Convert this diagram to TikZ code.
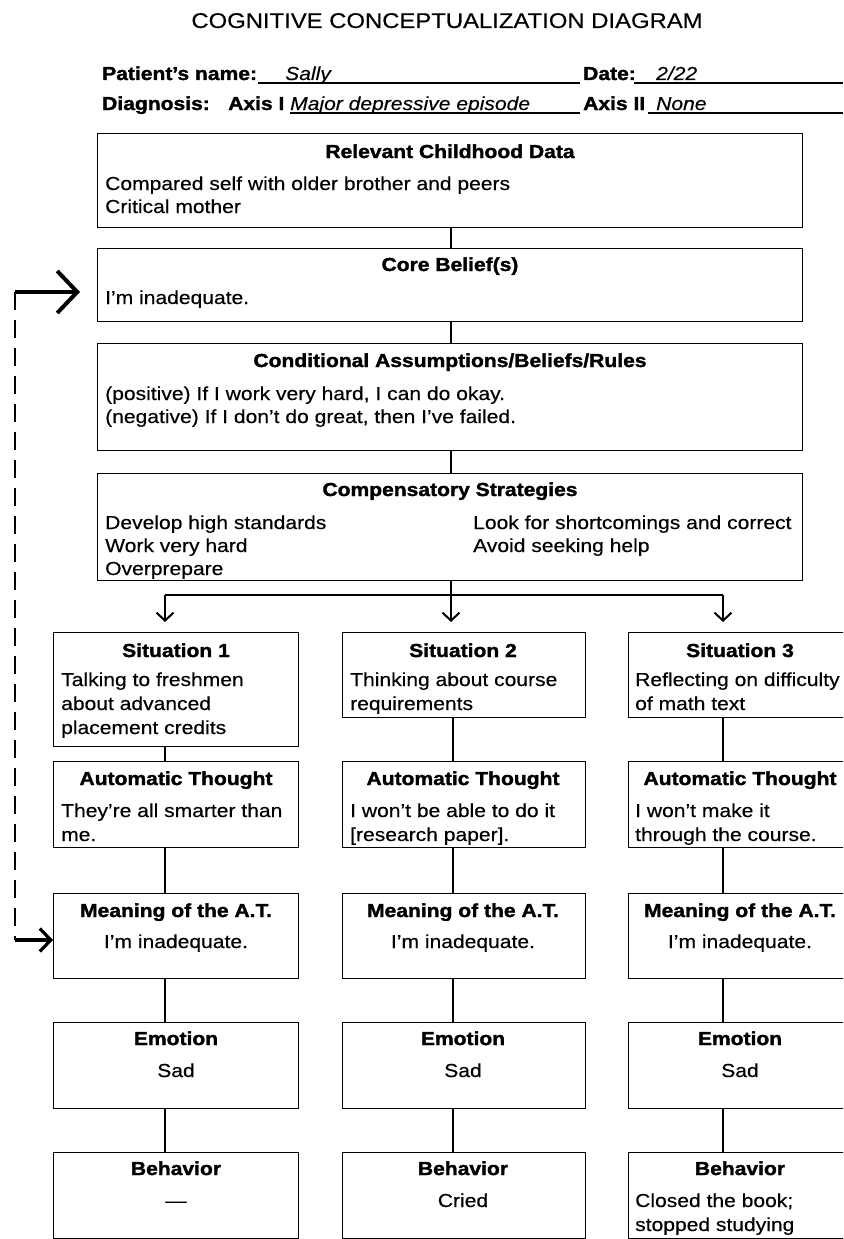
\documentclass[tikz,border=0pt]{standalone}
\usepackage{fontspec}
\setmainfont{Liberation Sans}[FakeStretch=1.12, FakeBold=0.35,
  BoldFeatures={FakeBold=1.6}, ItalicFeatures={FakeBold=0.35}]
\usetikzlibrary{arrows.meta}
\begin{document}
\begin{tikzpicture}[x=1pt,y=-1pt,
  box/.style={draw, line width=1.4pt, rectangle, inner sep=0pt, anchor=north west},
  txt/.style={inner sep=0pt, anchor=base west, font=\fontsize{18.8}{23}\selectfont},
  ctxt/.style={txt, anchor=base},
  hd/.style={inner sep=0pt, anchor=base, font=\fontsize{18.8}{23}\selectfont\bfseries},
  lbl/.style={inner sep=0pt, anchor=base west, font=\fontsize{18.8}{23}\selectfont\bfseries},
  val/.style={inner sep=0pt, anchor=base west, font=\fontsize{18.8}{23}\selectfont\itshape},
  conn/.style={line width=1.4pt},
  downarr/.style={line width=2pt, -{Straight Barb[length=8pt,width=17pt]}, shorten >=10pt},
  rule/.style={line width=1.1pt}]
\useasboundingbox (0,0) rectangle (843,1239);
\clip (0,0) rectangle (843,1239);
\fill[white] (0,0) rectangle (843,1239);

% ---------- title and header ----------
\node[inner sep=0pt, anchor=base, font=\fontsize{21.3}{25}\selectfont] (title) at (447,28) {COGNITIVE CONCEPTUALIZATION DIAGRAM};
\node[lbl] (pname) at (102,80) {Patient’s name:};
\node[val] (pval) at (285,80) {Sally};
\node[lbl] (dlbl) at (583,80) {Date:};
\node[val] (dval) at (656,80) {2/22};
\node[lbl] (diag) at (102,110) {Diagnosis:};
\node[lbl] (ax1) at (228,110) {Axis I};
\node[val] (ax1val) at (290,110) {Major depressive episode};
\node[lbl] (ax2) at (583,110) {Axis II};
\node[val] (ax2val) at (656,110) {None};
\coordinate (u1a) at (258,83); \coordinate (u1b) at (580,83);
\coordinate (u2a) at (634,83); \coordinate (u2b) at (843,83);
\coordinate (u3a) at (290,113); \coordinate (u3b) at (580,113);
\coordinate (u4a) at (648,113); \coordinate (u4b) at (843,113);
\draw[rule] (u1a) -- (u1b);
\draw[rule] (u2a) -- (u2b);
\draw[rule] (u3a) -- (u3b);
\draw[rule] (u4a) -- (u4b);

% ---------- main column ----------
\node[box, minimum width=705pt, minimum height=94pt] (rcd) at (97,133) {};
\node[box, minimum width=705pt, minimum height=73pt] (cb) at (97,248) {};
\node[box, minimum width=705pt, minimum height=107pt] (ca) at (97,343) {};
\node[box, minimum width=705pt, minimum height=107pt] (cs) at (97,473) {};

\node[hd] (rcd-h) at (450,158) {Relevant Childhood Data};
\node[txt] (rcd-1) at (105,190) {Compared self with older brother and peers};
\node[txt] (rcd-2) at (105,213) {Critical mother};

\node[hd] (cb-h) at (450,271) {Core Belief(s)};
\node[txt] (cb-1) at (105,304) {I’m inadequate.};

\node[hd] (ca-h) at (450,367) {Conditional Assumptions/Beliefs/Rules};
\node[txt] (ca-1) at (105,400) {(positive) If I work very hard, I can do okay.};
\node[txt] (ca-2) at (105,423) {(negative) If I don’t do great, then I’ve failed.};

\node[hd] (cs-h) at (450,496) {Compensatory Strategies};
\node[txt] (cs-1) at (105,529) {Develop high standards};
\node[txt] (cs-2) at (105,552) {Work very hard};
\node[txt] (cs-3) at (105,575) {Overprepare};
\node[txt] (cs-4) at (473,529) {Look for shortcomings and correct};
\node[txt] (cs-5) at (473,552) {Avoid seeking help};

\coordinate (mx) at (451,0);
\draw[conn] (rcd.south -| mx) -- (cb.north -| mx);
\draw[conn] (cb.south -| mx) -- (ca.north -| mx);
\draw[conn] (ca.south -| mx) -- (cs.north -| mx);

% ---------- three situation columns ----------
\coordinate (x1) at (165,0);
\coordinate (x2) at (453,0);
\coordinate (x3) at (723,0);

\node[box, minimum width=245pt, minimum height=114pt] (s1) at (53,632) {};
\node[box, minimum width=243pt, minimum height=85pt] (s2) at (342,632) {};
\node[box, minimum width=245pt, minimum height=85pt] (s3) at (628,632) {};

\node[box, minimum width=245pt, minimum height=86pt] (a1) at (53,761) {};
\node[box, minimum width=243pt, minimum height=86pt] (a2) at (342,761) {};
\node[box, minimum width=245pt, minimum height=86pt] (a3) at (628,761) {};

\node[box, minimum width=245pt, minimum height=85pt] (m1) at (53,893) {};
\node[box, minimum width=243pt, minimum height=85pt] (m2) at (342,893) {};
\node[box, minimum width=245pt, minimum height=85pt] (m3) at (628,893) {};

\node[box, minimum width=245pt, minimum height=86pt] (e1) at (53,1022) {};
\node[box, minimum width=243pt, minimum height=86pt] (e2) at (342,1022) {};
\node[box, minimum width=245pt, minimum height=86pt] (e3) at (628,1022) {};

\node[box, minimum width=245pt, minimum height=86pt] (b1) at (53,1152) {};
\node[box, minimum width=243pt, minimum height=86pt] (b2) at (342,1152) {};
\node[box, minimum width=245pt, minimum height=86pt] (b3) at (628,1152) {};

% situations
\node[hd] (s1-h) at (176,657) {Situation 1};
\node[txt] (s1-1) at (61,686) {Talking to freshmen};
\node[txt] (s1-2) at (61,710) {about advanced};
\node[txt] (s1-3) at (61,734) {placement credits};
\node[hd] (s2-h) at (463,657) {Situation 2};
\node[txt] (s2-1) at (350,686) {Thinking about course};
\node[txt] (s2-2) at (350,710) {requirements};
\node[hd] (s3-h) at (740,657) {Situation 3};
\node[txt] (s3-1) at (635,686) {Reflecting on difficulty};
\node[txt] (s3-2) at (635,710) {of math text};

% automatic thoughts
\node[hd] (a1-h) at (176,785) {Automatic Thought};
\node[txt] (a1-1) at (61,817) {They’re all smarter than};
\node[txt] (a1-2) at (61,841) {me.};
\node[hd] (a2-h) at (463,785) {Automatic Thought};
\node[txt] (a2-1) at (350,817) {I won’t be able to do it};
\node[txt] (a2-2) at (350,841) {[research paper].};
\node[hd] (a3-h) at (740,785) {Automatic Thought};
\node[txt] (a3-1) at (635,817) {I won’t make it};
\node[txt] (a3-2) at (635,841) {through the course.};

% meanings
\node[hd] (m1-h) at (176,917) {Meaning of the A.T.};
\node[ctxt] (m1-1) at (176,948) {I’m inadequate.};
\node[hd] (m2-h) at (463,917) {Meaning of the A.T.};
\node[ctxt] (m2-1) at (463,948) {I’m inadequate.};
\node[hd] (m3-h) at (740,917) {Meaning of the A.T.};
\node[ctxt] (m3-1) at (740,948) {I’m inadequate.};

% emotions
\node[hd] (e1-h) at (176,1045) {Emotion};
\node[ctxt] (e1-1) at (176,1077) {Sad};
\node[hd] (e2-h) at (463,1045) {Emotion};
\node[ctxt] (e2-1) at (463,1077) {Sad};
\node[hd] (e3-h) at (740,1045) {Emotion};
\node[ctxt] (e3-1) at (740,1077) {Sad};

% behaviors
\node[hd] (b1-h) at (176,1175) {Behavior};
\node[ctxt] (b1-1) at (176,1207) {—};
\node[hd] (b2-h) at (463,1175) {Behavior};
\node[ctxt] (b2-1) at (463,1207) {Cried};
\node[hd] (b3-h) at (740,1175) {Behavior};
\node[txt] (b3-1) at (635,1207) {Closed the book;};
\node[txt] (b3-2) at (635,1231) {stopped studying};

% column connectors
\foreach \c/\xx in {1/x1,2/x2,3/x3}{
  \draw[conn] (s\c.south -| \xx) -- (a\c.north -| \xx);
  \draw[conn] (a\c.south -| \xx) -- (m\c.north -| \xx);
  \draw[conn] (m\c.south -| \xx) -- (e\c.north -| \xx);
  \draw[conn] (e\c.south -| \xx) -- (b\c.north -| \xx);
}

% fan-out from the compensatory strategies
\coordinate (fan) at (451,595);
\draw[line width=1.6pt] (fan -| x1) -- (fan -| x3);
\draw[downarr] (cs.south -| fan) -- (s2.north -| fan);
\draw[downarr] (fan -| x1) -- (s1.north -| x1);
\draw[downarr] (fan -| x3) -- (s3.north -| x3);

% feedback loop between the meaning of the A.T. and the core belief
\coordinate (lp-top) at (15,292);
\coordinate (lp-bot) at (15,940);
\coordinate (cb-tip) at (80,292);
\draw[line width=1.6pt, dash pattern=on 18pt off 10pt] (lp-top) -- (lp-bot);
\draw[line width=4pt, -{Straight Barb[length=20pt,width=42pt]}] (lp-top) -- (cb-tip);
\draw[line width=3.2pt, -{Straight Barb[length=11pt,width=23pt]}] (lp-bot) -- (m1.west |- lp-bot);
\end{tikzpicture}
\end{document}
